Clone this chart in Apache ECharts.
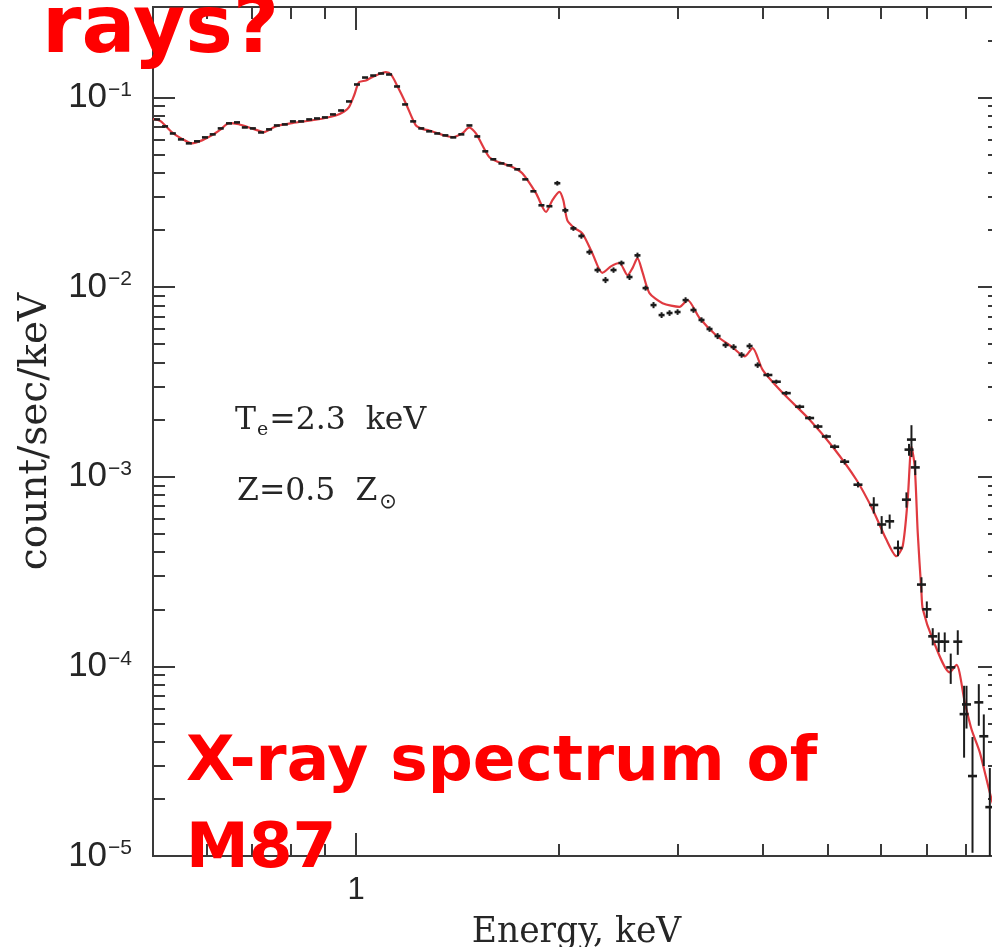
<!DOCTYPE html>
<html>
<head>
<meta charset="utf-8">
<script src="https://cdn.jsdelivr.net/npm/echarts@6/dist/echarts.min.js"></script>
<style>
  html, body { margin: 0; padding: 0; background: #ffffff; }
  #chart { width: 992px; height: 947px; }
</style>
</head>
<body>
<div id="chart"></div>
<script>
// Best-fit thermal plasma model (energy in keV, count/sec/keV)
const modelEnergy = [
  0.500, 0.513, 0.533, 0.552, 0.571, 0.591, 0.611, 0.630, 0.648, 0.670,
  0.701, 0.730, 0.760, 0.804, 0.871, 0.933, 0.960, 0.976, 0.993, 1.010,
  1.034, 1.056, 1.107, 1.127, 1.150, 1.185, 1.226, 1.253, 1.283, 1.388,
  1.436, 1.471, 1.505, 1.575, 1.630, 1.704, 1.763, 1.848, 1.912, 1.953,
  2.001, 2.028, 2.056, 2.106, 2.164, 2.239, 2.317, 2.389, 2.456, 2.525,
  2.568, 2.612, 2.657, 2.721, 2.845, 3.015, 3.098, 3.228, 3.418, 3.614,
  3.765, 3.869, 4.004, 4.286, 4.700, 5.084, 5.513, 5.830, 6.107, 6.319,
  6.457, 6.568, 6.652, 6.728, 6.797, 6.884, 6.916, 7.154, 7.582, 7.758,
  7.981, 8.166, 8.401, 8.742, 9.000
];
const modelRate = [
  0.0770, 0.0750, 0.0657, 0.0605, 0.0573, 0.0594, 0.0631, 0.0679, 0.0733, 0.0722,
  0.0687, 0.0657, 0.0704, 0.0733, 0.0763, 0.0804, 0.0844, 0.0889, 0.1024, 0.1204,
  0.1229, 0.1280, 0.1360, 0.1320, 0.1156, 0.0930, 0.0712, 0.0683, 0.0670, 0.0618,
  0.0647, 0.0695, 0.0647, 0.0485, 0.0455, 0.0430, 0.0398, 0.0312, 0.0249, 0.0287,
  0.0318, 0.0287, 0.0225, 0.0205, 0.0192, 0.0151, 0.0119, 0.0129, 0.0134, 0.01156,
  0.0126, 0.01422, 0.0120, 0.0093, 0.00823, 0.00787, 0.00855, 0.00687, 0.00556, 0.00481,
  0.00431, 0.00477, 0.00366, 0.00277, 0.00200, 0.00144, 0.000964, 0.000670, 0.000466, 0.000381,
  0.000430, 0.000757, 0.00144, 0.00113, 0.000507, 0.000245, 0.000200, 0.000139, 0.0000929, 0.000102,
  0.0000647, 0.0000466, 0.0000352, 0.0000200, 0.0000150
];

// Observed counts: bin energy (keV), rate and 1-sigma error (count/sec/keV)
const dataEnergy = [
  0.507, 0.521, 0.535, 0.550, 0.565, 0.581, 0.597, 0.613, 0.630, 0.648,
  0.666, 0.684, 0.703, 0.723, 0.743, 0.763, 0.784, 0.806, 0.829, 0.852,
  0.875, 0.899, 0.924, 0.950, 0.976, 1.003, 1.031, 1.060, 1.089, 1.119,
  1.150, 1.182, 1.215, 1.249, 1.283, 1.319, 1.356, 1.393, 1.432, 1.472,
  1.512, 1.554, 1.597, 1.642, 1.687, 1.733, 1.781, 1.831, 1.882, 1.934,
  1.987, 2.042, 2.099, 2.157, 2.217, 2.279, 2.342, 2.407, 2.473, 2.542,
  2.612, 2.685, 2.759, 2.836, 2.914, 2.995, 3.078, 3.162, 3.250, 3.340,
  3.433, 3.528, 3.626, 3.726, 3.829, 3.936,
  4.076, 4.195, 4.340, 4.543, 4.700, 4.835, 4.976, 5.119, 5.297, 5.543,
  5.850, 6.010, 6.176, 6.355, 6.540, 6.598, 6.653, 6.740, 6.884, 7.011,
  7.154, 7.302, 7.453, 7.607, 7.792, 7.962, 8.028, 8.194, 8.372, 8.516,
  8.693
];
const dataRate = [
  0.0766, 0.0704, 0.0646, 0.0601, 0.0573, 0.0587, 0.0616, 0.0639, 0.0687, 0.0730,
  0.0739, 0.0695, 0.0687, 0.0654, 0.0679, 0.0712, 0.0721, 0.0748, 0.0748, 0.0766,
  0.0775, 0.0785, 0.0814, 0.0854, 0.0953, 0.1171, 0.1274, 0.1305, 0.1338, 0.1322,
  0.1143, 0.0919, 0.0748, 0.0687, 0.0663, 0.0646, 0.0631, 0.0616, 0.0639, 0.0712,
  0.0623, 0.0520, 0.0472, 0.0449, 0.0439, 0.0418, 0.0370, 0.0320, 0.0270, 0.0267,
  0.0353, 0.0254, 0.0204, 0.0186, 0.0153, 0.0123, 0.0109, 0.0123, 0.0134, 0.0113,
  0.0147, 0.00988, 0.00804, 0.00712, 0.00730, 0.00739, 0.00854, 0.00757, 0.00671, 0.00601,
  0.00552, 0.00495, 0.00483, 0.00439, 0.00489, 0.00388,
  0.00344, 0.00317, 0.00276, 0.00234, 0.00204, 0.00184, 0.00163, 0.00144, 0.00120, 0.000908,
  0.000710, 0.000560, 0.000582, 0.000421, 0.000757, 0.00139, 0.00157, 0.00112, 0.000270, 0.000200,
  0.000144, 0.000135, 0.000135, 0.0000988, 0.000135, 0.0000560, 0.0000630, 0.0000264, 0.0000646, 0.0000428,
  0.0000181
];
const dataErr = [
  0, 0, 0, 0, 0, 0, 0, 0, 0, 0,
  0, 0, 0, 0, 0, 0, 0, 0, 0, 0,
  0, 0, 0, 0, 0, 0, 0, 0, 0, 0,
  0, 0, 0, 0, 0, 0, 0, 0, 0, 0,
  0, 0, 0, 0, 0, 0, 0, 0, 0, 0,
  0.0010, 0.0008, 0.0006, 0.0006, 0.0005, 0.0004, 0.0004, 0.0004, 0.0004, 0.0004,
  0.0005, 0.0003, 0.0003, 0.00025, 0.00025, 0.00025, 0.0003, 0.00025, 0.00022, 0.0002,
  0.0002, 0.00017, 0.00017, 0.00015, 0.00017, 0.00013,
  0.00009, 0.00008, 0.00007, 0.00006, 0.00005, 0.00005, 0.00004, 0.00004, 0.00004, 0.00003,
  0.00007, 0.00006, 0.00005, 0.00004, 0.00007, 0.00010, 0.00030, 0.00010, 0.000025, 0.000020,
  0.000015, 0.000016, 0.000016, 0.000018, 0.000020, 0.000023, 0.000016, 0.000016, 0.000016, 0.000013,
  0.000011
];

// Axis ranges, ticks and labels
const xRange = [0.5, 9];
const yRange = [1e-5, 0.3];
const xMajorTicks = [1];
const xMinorTicks = [0.6, 0.7, 0.8, 0.9, 2, 3, 4, 5, 6, 7, 8];
const xTickLabels = [1];
const yMajorTicks = [1e-5, 1e-4, 1e-3, 1e-2, 1e-1];
const yMinorTicks = [
  2e-5, 3e-5, 4e-5, 5e-5, 6e-5, 7e-5, 8e-5, 9e-5,
  2e-4, 3e-4, 4e-4, 5e-4, 6e-4, 7e-4, 8e-4, 9e-4,
  0.002, 0.003, 0.004, 0.005, 0.006, 0.007, 0.008, 0.009,
  0.02, 0.03, 0.04, 0.05, 0.06, 0.07, 0.08, 0.09, 0.2
];
const yTickLabels = [1e-5, 1e-4, 1e-3, 1e-2, 1e-1];

const INK = '#262626';
const FRAME = '#3a3a3a';
const SERIF = '"DejaVu Serif", "Liberation Serif", serif';
const SANS = '"Liberation Sans", Arial, sans-serif';
const RED_FONT = '"DejaVu Sans", sans-serif';

function baseAxis(range, position, ticks, len) {
  return {
    type: 'log', logBase: 10, min: range[0], max: range[1],
    position: position, gridIndex: 0,
    axisLine: { show: true, onZero: false, lineStyle: { color: FRAME, width: 2 } },
    axisTick: { show: true, inside: true, length: len, customValues: ticks,
                lineStyle: { color: FRAME, width: 2 } },
    axisLabel: { show: false },
    splitLine: { show: false },
    minorTick: { show: false },
    minorSplitLine: { show: false },
    axisPointer: { show: false }
  };
}

const xBottom = baseAxis(xRange, 'bottom', xMajorTicks, 23);
xBottom.axisLabel = {
  show: true, customValues: xTickLabels, margin: 19,
  formatter: v => String(v),
  fontFamily: SANS, fontSize: 31, color: INK
};
xBottom.name = 'Energy, keV';
xBottom.nameLocation = 'middle';
xBottom.nameGap = 60;
xBottom.nameTextStyle = { fontFamily: SERIF, fontSize: 34.5, color: INK };

const yLeft = baseAxis(yRange, 'left', yMajorTicks, 22);
yLeft.axisLabel = {
  show: true, customValues: yTickLabels, margin: 21,
  formatter: v => '{b|10}{s|\u2212' + Math.round(-Math.log10(v)) + '}',
  rich: {
    b: { fontFamily: SANS, fontSize: 35, color: INK, lineHeight: 36, verticalAlign: 'middle' },
    s: { fontFamily: SANS, fontSize: 21, color: INK, lineHeight: 30, verticalAlign: 'top', padding: [0, 0, 0, 1] }
  }
};
yLeft.name = 'count/sec/keV';
yLeft.nameLocation = 'middle';
yLeft.nameGap = 98;
yLeft.nameRotate = 90;
yLeft.nameTextStyle = { fontFamily: SERIF, fontSize: 39, color: INK };

const option = {
  animation: false,
  backgroundColor: '#ffffff',
  grid: { left: 153, top: 7, width: 847, height: 849, containLabel: false, outerBoundsMode: 'none' },
  xAxis: [
    xBottom,
    baseAxis(xRange, 'bottom', xMinorTicks, 12),
    baseAxis(xRange, 'top', xMajorTicks, 23),
    baseAxis(xRange, 'top', xMinorTicks, 12)
  ],
  yAxis: [
    yLeft,
    baseAxis(yRange, 'left', yMinorTicks, 12),
    baseAxis(yRange, 'right', yMajorTicks, 22),
    baseAxis(yRange, 'right', yMinorTicks, 12)
  ],
  series: [
    {
      name: 'model', type: 'line', xAxisIndex: 0, yAxisIndex: 0,
      data: modelEnergy.map((e, i) => [e, modelRate[i]]),
      showSymbol: false, symbol: 'none', smooth: 0.25, clip: true, z: 2,
      lineStyle: { color: '#e03a40', width: 2.2 }
    },
    {
      name: 'data', type: 'custom', xAxisIndex: 0, yAxisIndex: 0, clip: true, z: 3,
      encode: { x: 0, y: 1 },
      data: dataEnergy.map((e, i) => [e, dataRate[i], dataErr[i]]),
      renderItem: function (params, api) {
        const e = api.value(0), v = api.value(1), err = api.value(2);
        const c = api.coord([e, v]);
        const hw = e > 4 ? 4.5 : 3;
        const children = [{
          type: 'line',
          shape: { x1: c[0] - hw, y1: c[1], x2: c[0] + hw, y2: c[1] },
          style: { stroke: '#1c1c1c', lineWidth: 2.6 }
        }];
        if (err > 0) {
          const hi = api.coord([e, v + err]);
          const lo = api.coord([e, Math.max(v - err, yRange[0])]);
          children.push({
            type: 'line',
            shape: { x1: c[0], y1: hi[1], x2: c[0], y2: lo[1] },
            style: { stroke: '#1c1c1c', lineWidth: 2 }
          });
        }
        return { type: 'group', children: children };
      }
    }
  ],
  graphic: [
    {
      type: 'text', x: 235, y: 405, z: 20,
      style: {
        text: '{m|T}{sub|e}{m|=2.3  keV}',
        rich: {
          m: { fontFamily: SERIF, fontSize: 31.5, fill: INK, lineHeight: 36, verticalAlign: 'top' },
          sub: { fontFamily: SERIF, fontSize: 19, fill: INK, lineHeight: 36, verticalAlign: 'top', padding: [16, 1, 0, 1] }
        }
      }
    },
    {
      type: 'text', x: 237, y: 476, z: 20,
      style: {
        text: '{m|Z=0.5  Z}{sub|\u2299}',
        rich: {
          m: { fontFamily: SERIF, fontSize: 31.5, fill: INK, lineHeight: 36, verticalAlign: 'top' },
          sub: { fontFamily: RED_FONT, fontSize: 21, fill: INK, lineHeight: 36, verticalAlign: 'top', padding: [16, 0, 0, 2] }
        }
      }
    },
    {
      type: 'text', x: 42, y: 31, z: 30,
      style: {
        text: 'rays?', fill: '#ff0000',
        fontFamily: RED_FONT, fontWeight: 'bold', fontSize: 80,
        verticalAlign: 'middle'
      }
    },
    {
      type: 'text', x: 186, y: 764, z: 30,
      style: {
        text: 'X-ray spectrum of', fill: '#ff0000',
        fontFamily: RED_FONT, fontWeight: 'bold', fontSize: 63,
        verticalAlign: 'middle'
      }
    },
    {
      type: 'text', x: 186, y: 851, z: 30,
      style: {
        text: 'M87', fill: '#ff0000',
        fontFamily: RED_FONT, fontWeight: 'bold', fontSize: 63,
        verticalAlign: 'middle'
      }
    }
  ]
};

const chart = echarts.init(document.getElementById('chart'), null, { renderer: 'canvas' });
chart.setOption(option);
</script>
</body>
</html>
